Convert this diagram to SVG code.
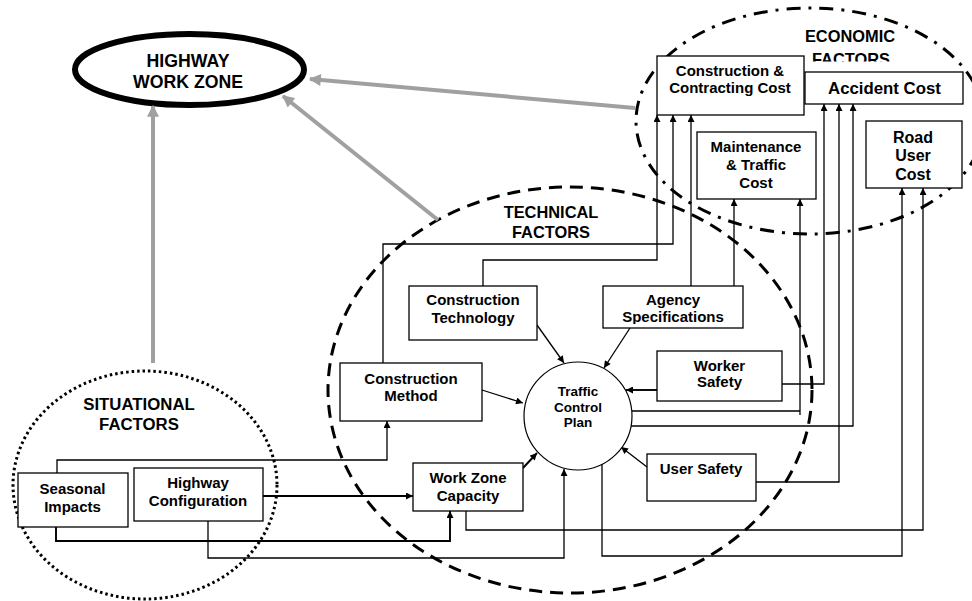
<svg xmlns="http://www.w3.org/2000/svg" width="972" height="601" viewBox="0 0 972 601">
<style>
.box{fill:#fff;stroke:#000;stroke-width:1.3}
.t{font-family:"Liberation Sans",Arial,sans-serif;font-weight:bold;text-anchor:middle;fill:#000}
.c{fill:none;stroke:#000;stroke-width:1.3;marker-end:url(#ah)}
.cb{stroke-width:1.9}
.g{fill:none;stroke:#a0a0a0;stroke-width:4;marker-end:url(#gh)}
</style>
<defs>
<marker id="ah" viewBox="0 0 10 10" refX="10" refY="5" markerWidth="8" markerHeight="7" markerUnits="userSpaceOnUse" orient="auto"><path d="M0,0 L10,5 L0,10 z" fill="#000"/></marker>
<marker id="gh" viewBox="0 0 10 10" refX="9" refY="5" markerWidth="14" markerHeight="12" markerUnits="userSpaceOnUse" orient="auto"><path d="M0,0 L10,5 L0,10 z" fill="#a0a0a0"/></marker>
<clipPath id="clipEco"><rect x="780" y="0" width="192" height="61.5"/></clipPath>
<clipPath id="clipAg"><rect x="603" y="286" width="140" height="38"/></clipPath>
</defs>
<rect width="972" height="601" fill="#fff"/>

<g id="regions">
<ellipse id="economic-region" cx="810" cy="121" rx="174" ry="113" fill="none" stroke="#000" stroke-width="3" stroke-dasharray="14 8 3 8"/>
<ellipse id="technical-region" cx="570" cy="390" rx="242" ry="203" fill="none" stroke="#000" stroke-width="3" stroke-dasharray="13 8"/>
<ellipse id="situational-region" cx="145" cy="485" rx="132" ry="114" fill="none" stroke="#000" stroke-width="3" stroke-dasharray="2.5 3"/>
<text class="t" x="850" y="42" font-size="16.4">ECONOMIC</text>
<text class="t" x="851" y="65" font-size="16.4" clip-path="url(#clipEco)">FACTORS</text>
<text class="t" x="551" y="218" font-size="16.4">TECHNICAL</text>
<text class="t" x="551" y="238" font-size="16.4">FACTORS</text>
<text class="t" x="139" y="410" font-size="16.8">SITUATIONAL</text>
<text class="t" x="139" y="430" font-size="16.8">FACTORS</text>
</g>

<g id="highway-work-zone">
<ellipse cx="189.5" cy="69.5" rx="114.5" ry="35.5" fill="#fff" stroke="#000" stroke-width="6"/>
<text class="t" x="188" y="67" font-size="17.7">HIGHWAY</text>
<text class="t" x="188" y="88" font-size="17.7">WORK ZONE</text>
</g>

<g id="connectors">
<path class="g" d="M153 363 V106"/>
<path class="g" d="M438 220 L283 96"/>
<path class="g" d="M635 108 L310 79"/>

<path class="c" d="M383 363 V244 H673 V115"/>
<path class="c" d="M483 286 V260 H657 V115"/>
<path class="c" d="M691 286 V115"/>
<path class="c" d="M734 286 V199"/>
<path class="c" d="M632 411 H800 M800 415 V199"/>
<path class="c" d="M782 384 H824 V104"/>
<path class="c" d="M631 426 H853 V104"/>
<path class="c" d="M756 482 H839 V104"/>
<path class="c" d="M602 464 V556 H902 V188"/>
<path class="c" d="M466 511 V530 H923 V188"/>
<path class="c" d="M208 521 V558 H564 V469"/>
<path class="c cb" d="M263 496 H413"/>
<path class="c" d="M57 473 V460 H387 V421"/>
<path class="c cb" d="M56 527 V541 H450 V511"/>
<path class="c" d="M537 325 L564 363"/>
<path class="c" d="M630 328 L604 368"/>
<path class="c" d="M482 390 L523 403"/>
<path class="c cb" d="M657 390 H626"/>
<path class="c" d="M647 467 L621 447"/>
<path class="c cb" d="M523 468 L537 453"/>
</g>

<g id="construction-contracting-cost">
<rect class="box" x="657" y="56" width="147" height="59"/>
<text class="t" x="730" y="76" font-size="15">Construction &amp;</text>
<text class="t" x="730" y="93" font-size="15">Contracting Cost</text>
</g>
<g id="accident-cost">
<rect class="box" x="805" y="72" width="158" height="32"/>
<text class="t" x="884.5" y="94" font-size="16.8">Accident Cost</text>
</g>
<g id="maintenance-traffic-cost">
<rect class="box" x="697" y="132" width="119" height="67"/>
<text class="t" x="756" y="152" font-size="15">Maintenance</text>
<text class="t" x="756" y="170" font-size="15">&amp; Traffic</text>
<text class="t" x="756" y="188" font-size="15">Cost</text>
</g>
<g id="road-user-cost">
<rect class="box" x="866" y="121" width="96" height="67"/>
<text class="t" x="913" y="143" font-size="16">Road</text>
<text class="t" x="913" y="161" font-size="16">User</text>
<text class="t" x="913" y="180" font-size="16">Cost</text>
</g>
<g id="construction-technology">
<rect class="box" x="409" y="286" width="128" height="54"/>
<text class="t" x="473" y="305" font-size="15">Construction</text>
<text class="t" x="473" y="323" font-size="15">Technology</text>
</g>
<g id="agency-specifications">
<rect class="box" x="603" y="286" width="140" height="42"/>
<text class="t" x="673" y="305" font-size="15">Agency</text>
<text class="t" x="673" y="322" font-size="15" clip-path="url(#clipAg)">Specifications</text>
</g>
<g id="worker-safety">
<rect class="box" x="657" y="351" width="125" height="50"/>
<text class="t" x="719.5" y="371" font-size="15">Worker</text>
<text class="t" x="719.5" y="387" font-size="15">Safety</text>
</g>
<g id="construction-method">
<rect class="box" x="340" y="363" width="142" height="58"/>
<text class="t" x="411" y="384" font-size="15">Construction</text>
<text class="t" x="411" y="401" font-size="15">Method</text>
</g>
<g id="traffic-control-plan">
<circle cx="578" cy="416" r="54" fill="#fff" stroke="#000" stroke-width="1.2"/>
<text class="t" x="578" y="396" font-size="13.5">Traffic</text>
<text class="t" x="578" y="412" font-size="13.5">Control</text>
<text class="t" x="578" y="427" font-size="13.5">Plan</text>
</g>
<g id="work-zone-capacity">
<rect class="box" x="413" y="463" width="110" height="48"/>
<text class="t" x="468" y="483" font-size="15">Work Zone</text>
<text class="t" x="468" y="501" font-size="15">Capacity</text>
</g>
<g id="user-safety">
<rect class="box" x="647" y="454" width="109" height="47"/>
<text class="t" x="701" y="474" font-size="15">User Safety</text>
</g>
<g id="seasonal-impacts">
<rect class="box" x="18" y="473" width="110" height="54"/>
<text class="t" x="72.5" y="494" font-size="15">Seasonal</text>
<text class="t" x="72.5" y="512" font-size="15">Impacts</text>
</g>
<g id="highway-configuration">
<rect class="box" x="134" y="468" width="129" height="53"/>
<text class="t" x="198" y="488" font-size="15">Highway</text>
<text class="t" x="198" y="506" font-size="15">Configuration</text>
</g>
</svg>
